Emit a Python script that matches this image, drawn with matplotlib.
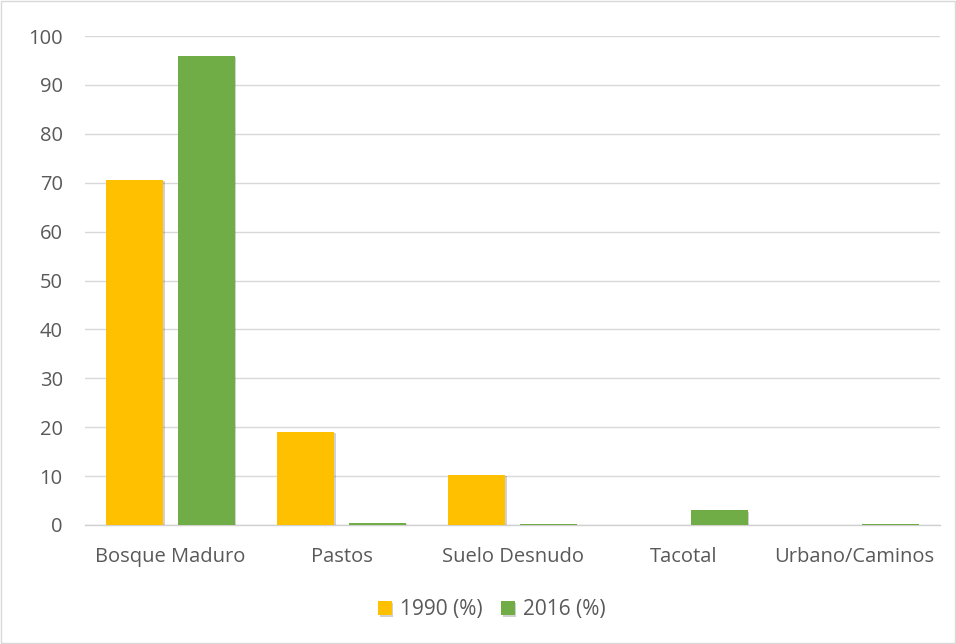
import matplotlib
matplotlib.use("Agg")
import matplotlib.pyplot as plt
import matplotlib.patheffects as pe
import numpy as np

categories = ["Bosque Maduro", "Pastos", "Suelo Desnudo", "Tacotal", "Urbano/Caminos"]
series_names = ["1990 (%)", "2016 (%)"]
values_1990 = [70.6, 19.1, 10.3, 0.0, 0.0]
values_2016 = [95.9, 0.4, 0.2, 3.0, 0.3]
yticks = [0, 10, 20, 30, 40, 50, 60, 70, 80, 90, 100]

colors = ["#FFC000", "#70AD47"]
text_color = "#595959"

plt.rcParams['font.family'] = ['Open Sans', 'DejaVu Sans']

fig = plt.figure(figsize=(9.56, 6.44), dpi=100)
fig.patches.append(plt.Rectangle((0.001, 0.001), 0.998, 0.997, transform=fig.transFigure,
                                 fill=False, edgecolor="#d9d9d9", linewidth=1))
ax = fig.add_axes([85/956, 1-525/644, (940-85)/956, (525-36)/644])

x = np.arange(len(categories))
w = 0.333
off = 0.208
shadow = [pe.SimplePatchShadow(offset=(1, -1), shadow_rgbFace="#000000", alpha=0.18), pe.Normal()]
b1 = ax.bar(x - off, values_1990, w, color=colors[0], label=series_names[0], zorder=3)
b2 = ax.bar(x + off, values_2016, w, color=colors[1], label=series_names[1], zorder=3)
for b in list(b1) + list(b2):
    b.set_path_effects(shadow)

ax.set_xlim(-0.5, len(categories) - 0.5)
ax.set_ylim(0, 100)
ax.set_yticks(yticks)
ax.grid(axis='y', color="#d9d9d9", linewidth=1, zorder=0)
ax.set_axisbelow(True)
for s in ["top", "right", "left"]:
    ax.spines[s].set_visible(False)
ax.spines["bottom"].set_color("#d0d0d0")
ax.spines["bottom"].set_linewidth(1)
ax.tick_params(axis='both', length=0, labelsize=14.5, colors=text_color)
ax.tick_params(axis='x', pad=16)
ax.tick_params(axis='y', pad=16)
ax.set_xticks(x)
ax.set_xticklabels(categories)
for lab in ax.get_yticklabels():
    lab.set_horizontalalignment('right')

leg = fig.legend(handles=[b1, b2], labels=series_names, loc='center', bbox_to_anchor=(492/956, 1-610/644),
                 ncol=2, frameon=False, fontsize=15, handlelength=0.65, handleheight=0.65,
                 handletextpad=0.4, columnspacing=0.9)
for t in leg.get_texts():
    t.set_color(text_color)

fig.savefig("out.png", dpi=100)
